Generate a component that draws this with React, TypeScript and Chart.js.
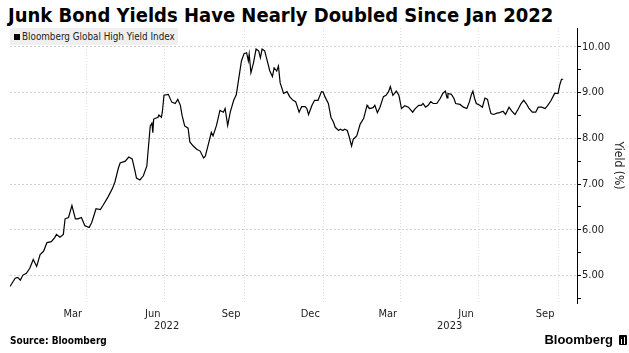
import React, { useEffect, useRef } from 'react';
import { Chart, registerables } from 'chart.js';

Chart.register(...registerables);

// Days since 2022-01-01
const DAYS = [
  1, 7, 10, 13, 16, 20, 24, 28, 32, 36, 40, 44, 49, 53, 55, 59, 63, 65, 69, 73,
  77, 80, 84, 88, 93, 96, 101, 106, 109, 115, 120, 123, 127, 129, 135, 139, 143, 146, 148, 152,
  156, 160, 162, 164, 166, 167, 168, 173, 174, 177, 178, 180, 185, 189, 193, 196, 199, 201, 204, 208,
  210, 214, 218, 222, 226, 228, 231, 235, 237, 241, 245, 249, 251, 254, 257, 261, 264, 267, 270, 273,
  276, 278, 279, 281, 284, 287, 290, 292, 294, 297, 300, 303, 306, 308, 311, 313, 315, 319, 323, 326,
  330, 333, 337, 340, 344, 346, 348, 352, 355, 359, 363, 365, 367, 371, 374, 377, 379, 383, 385, 388,
  390, 393, 395, 398, 400, 404, 408, 412, 416, 417, 419, 423, 425, 428, 431, 435, 438, 441, 443, 446,
  448, 450, 453, 456, 460, 464, 469, 472, 476, 479, 481, 484, 487, 490, 493, 497, 501, 504, 507, 509,
  510, 514, 517, 519, 524, 528, 532, 535, 537, 539, 541, 543, 547, 550, 553, 556, 558, 560, 563, 567,
  570, 574, 577, 581, 584, 588, 592, 595, 598, 601, 604, 608, 612, 615, 619, 623, 626, 630, 634, 638,
  640, 642, 644,
];

// Bloomberg Global High Yield Index, yield (%)
const YIELDS = [
  4.76, 4.94, 4.96, 4.90, 5.01, 5.05, 5.16, 5.35, 5.20, 5.46, 5.53, 5.72, 5.74, 5.83, 5.90, 5.84, 5.90, 6.24, 6.27, 6.53,
  6.24, 6.24, 6.27, 6.09, 6.05, 6.16, 6.46, 6.44, 6.53, 6.72, 6.90, 7.05, 7.35, 7.46, 7.50, 7.59, 7.55, 7.31, 7.13, 7.09,
  7.18, 7.39, 7.83, 8.27, 8.33, 8.12, 8.42, 8.46, 8.51, 8.46, 8.57, 8.94, 8.96, 8.79, 8.76, 8.85, 8.72, 8.50, 8.27, 8.22,
  7.92, 7.83, 7.76, 7.72, 7.57, 7.61, 7.83, 8.13, 8.05, 8.28, 8.61, 8.57, 8.65, 8.28, 8.57, 8.83, 8.95, 9.32, 9.69, 9.85,
  9.87, 9.69, 9.84, 9.43, 9.65, 9.95, 9.91, 9.76, 9.95, 9.91, 9.69, 9.47, 9.35, 9.54, 9.47, 9.58, 9.21, 8.98, 9.02, 8.91,
  8.83, 8.80, 8.57, 8.69, 8.69, 8.65, 8.52, 8.72, 8.83, 8.83, 9.02, 9.01, 8.91, 8.76, 8.46, 8.35, 8.24, 8.17, 8.20, 8.17,
  8.20, 8.17, 8.05, 7.83, 7.98, 8.05, 8.31, 8.43, 8.72, 8.69, 8.65, 8.67, 8.72, 8.56, 8.68, 8.91, 8.94, 9.02, 9.13, 8.94,
  8.98, 9.03, 8.94, 8.65, 8.71, 8.68, 8.57, 8.65, 8.72, 8.72, 8.76, 8.68, 8.72, 8.80, 8.76, 8.76, 8.87, 8.98, 9.03, 8.88,
  8.98, 8.96, 8.87, 8.76, 8.74, 8.68, 8.65, 8.80, 8.94, 9.03, 8.87, 8.76, 8.72, 8.68, 8.88, 8.85, 8.68, 8.54, 8.52, 8.55,
  8.56, 8.59, 8.52, 8.68, 8.60, 8.52, 8.65, 8.76, 8.83, 8.76, 8.66, 8.57, 8.57, 8.68, 8.68, 8.65, 8.72, 8.83, 8.98, 8.98,
  9.17, 9.29, 9.29,
];

// x axis: month labels (mid-month) and gridlines (month boundaries), in days since 2022-01-01
const MONTH_LABEL_DAYS = [74, 167, 258, 350, 440, 531, 623];
const MONTH_LABELS = ['Mar', 'Jun', 'Sep', 'Dec', 'Mar', 'Jun', 'Sep'];
const GRID_DAYS = [90, 181, 273, 365, 455, 546, 638];
const YEAR_LABEL_DAYS = [183, 512];
const YEAR_LABELS = ['2022', '2023'];

// y axis
const Y_TICKS = [4.5, 5, 5.5, 6, 6.5, 7, 7.5, 8, 8.5, 9, 9.5, 10];

const TICK_FONT = '"DejaVu Sans Condensed", "DejaVu Sans", sans-serif';

export default function App() {
  const canvasRef = useRef<HTMLCanvasElement | null>(null);

  useEffect(() => {
    const canvas = canvasRef.current;
    if (!canvas) return;
    const points = DAYS.map((d, i) => ({ x: d, y: YIELDS[i] }));
    const xTickValues = [...MONTH_LABEL_DAYS, ...GRID_DAYS, ...YEAR_LABEL_DAYS].sort((a, b) => a - b);

    const chart = new Chart(canvas, {
      type: 'line',
      data: {
        datasets: [
          {
            label: 'Bloomberg Global High Yield Index',
            data: points,
            borderColor: '#000000',
            borderWidth: 1.2,
            pointRadius: 0,
            tension: 0,
            fill: false,
          },
        ],
      },
      options: {
        animation: false,
        responsive: false,
        maintainAspectRatio: false,
        events: [],
        layout: { padding: { left: 10, top: 28, right: 0, bottom: 0 } },
        plugins: {
          legend: { display: false },
          tooltip: { enabled: false },
          title: { display: false },
        },
        scales: {
          x: {
            type: 'linear',
            position: 'bottom',
            min: 1,
            max: 660,
            afterBuildTicks: (scale: any) => {
              scale.ticks = xTickValues.map((v) => ({ value: v }));
            },
            afterFit: (scale: any) => {
              scale.height = 32;
            },
            ticks: {
              autoSkip: false,
              maxRotation: 0,
              minRotation: 0,
              padding: 5,
              color: '#222222',
              font: { family: TICK_FONT, size: 11, lineHeight: 1.12 },
              callback: (value: any) => {
                const v = Number(value);
                const mi = MONTH_LABEL_DAYS.indexOf(v);
                if (mi >= 0) return MONTH_LABELS[mi];
                const yi = YEAR_LABEL_DAYS.indexOf(v);
                if (yi >= 0) return ['', YEAR_LABELS[yi]];
                return '';
              },
            },
            grid: {
              drawTicks: false,
              lineWidth: 1,
              color: (ctx: any) =>
                ctx.tick && GRID_DAYS.includes(ctx.tick.value) ? '#dcdcdc' : 'rgba(0,0,0,0)',
            },
            border: { display: false, dash: [1, 2] },
          },
          y: {
            type: 'linear',
            position: 'right',
            min: 4.4,
            max: 10.41,
            afterBuildTicks: (scale: any) => {
              scale.ticks = Y_TICKS.map((v) => ({ value: v }));
            },
            afterFit: (scale: any) => {
              scale.width = 52;
            },
            ticks: {
              padding: 1,
              color: '#222222',
              font: { family: TICK_FONT, size: 11 },
              callback: (value: any) => {
                const v = Number(value);
                return Number.isInteger(v) ? v.toFixed(2) : '';
              },
            },
            grid: {
              drawTicks: true,
              tickLength: 4,
              tickWidth: 1,
              tickColor: '#000000',
              lineWidth: 1,
              color: (ctx: any) =>
                ctx.tick && Number.isInteger(ctx.tick.value) ? '#d2d2d2' : 'rgba(0,0,0,0)',
            },
            border: { display: true, color: '#000000', width: 1, dash: [2, 2] },
            title: {
              display: true,
              text: 'Yield (%)',
              color: '#222222',
              font: { family: TICK_FONT, size: 12 },
              padding: { top: 4, bottom: 4 },
            },
          },
        },
      },
    });
    return () => chart.destroy();
  }, []);

  return (
    <div style={{ position: 'absolute', left: 0, top: 0, width: 629, height: 353, background: '#ffffff', overflow: 'hidden' }}>
      <div
        style={{
          position: 'absolute',
          left: 8,
          top: 3,
          fontFamily: '"DejaVu Sans Condensed", "DejaVu Sans", sans-serif',
          fontWeight: 700,
          fontSize: 20,
          lineHeight: '24px',
          color: '#000',
          whiteSpace: 'nowrap',
        }}
      >
        Junk Bond Yields Have Nearly Doubled Since Jan 2022
      </div>
      <canvas ref={canvasRef} width={629} height={335} style={{ position: 'absolute', left: 0, top: 0, width: 629, height: 335 }} />
      <div
        style={{
          position: 'absolute',
          left: 10,
          top: 28,
          width: 168,
          height: 17,
          background: '#efefef',
          fontFamily: '"DejaVu Sans Condensed", "DejaVu Sans", sans-serif',
          fontSize: 9.8,
          lineHeight: '17px',
          color: '#222',
          whiteSpace: 'nowrap',
        }}
      >
        <span style={{ position: 'absolute', left: 4, top: 6, width: 6, height: 6, background: '#000' }} />
        <span style={{ position: 'absolute', left: 12, top: 0 }}>Bloomberg Global High Yield Index</span>
      </div>
      <div
        style={{
          position: 'absolute',
          left: 10,
          top: 334,
          fontFamily: '"DejaVu Sans Condensed", "DejaVu Sans", sans-serif',
          fontWeight: 700,
          fontSize: 10,
          lineHeight: '14px',
          color: '#000',
          whiteSpace: 'nowrap',
        }}
      >
        Source: Bloomberg
      </div>
      <div
        style={{
          position: 'absolute',
          right: 16,
          top: 332,
          fontFamily: '"Liberation Sans", Arial, sans-serif',
          fontWeight: 700,
          fontSize: 13,
          lineHeight: '16px',
          color: '#000',
          whiteSpace: 'nowrap',
        }}
      >
        Bloomberg
      </div>
      <div style={{ position: 'absolute', left: 619, top: 335, width: 8, height: 10, background: '#000', borderRadius: 1 }}>
        <span style={{ position: 'absolute', left: 2, top: 4, width: 1, height: 5, background: '#fff' }} />
        <span style={{ position: 'absolute', left: 5, top: 2, width: 1, height: 7, background: '#fff' }} />
      </div>
    </div>
  );
}
